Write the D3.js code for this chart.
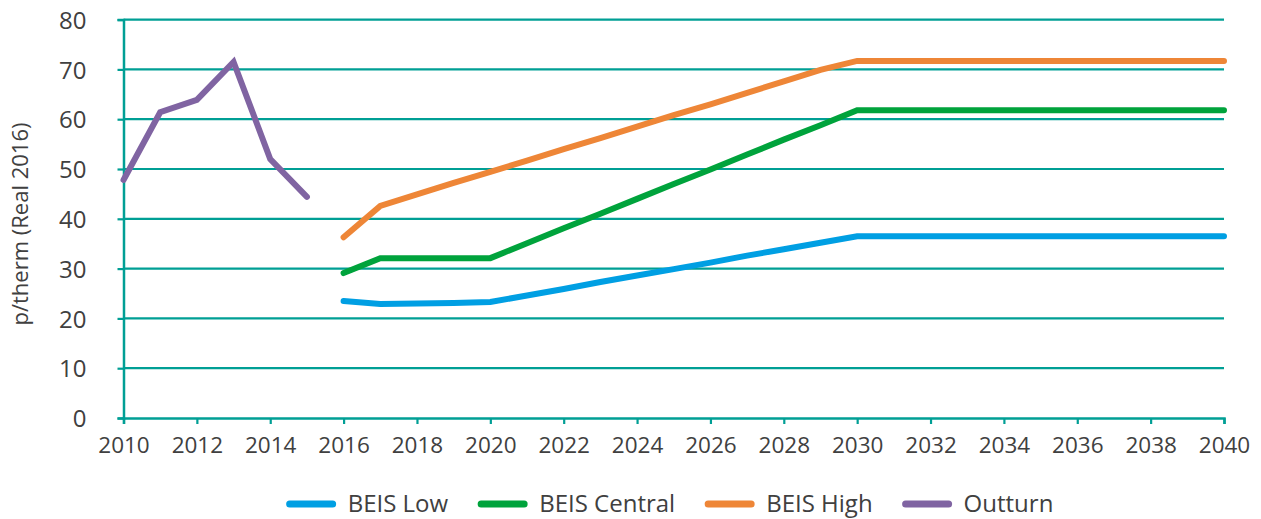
<!DOCTYPE html>
<html><head><meta charset="utf-8">
<script src="https://cdn.jsdelivr.net/npm/d3@7"></script>
<style>body{margin:0;background:#fff;} svg{display:block;} text{font-family:"Open Sans",sans-serif;fill:#404040;}</style>
</head><body>
<svg id="c" width="1261" height="519"></svg>
<script>
const outturnYears = [2010,2011,2012,2013,2014,2015];
const outturnValues = [47.8,61.4,63.9,71.5,52.0,44.4];
const beisYears = [2016,2017,2018,2019,2020,2021,2022,2023,2024,2025,2026,2027,2028,2029,2030,2040];
const beisLow =     [23.5,22.9,23.0,23.1,23.3,24.6,25.9,27.3,28.6,29.9,31.2,32.6,33.9,35.2,36.5,36.5];
const beisCentral = [29.1,32.1,32.1,32.1,32.1,35.1,38.1,41.0,44.0,47.0,49.9,52.9,55.9,58.8,61.8,61.8];
const beisHigh =    [36.3,42.6,44.9,47.2,49.4,51.7,54.0,56.2,58.5,60.8,63.0,65.3,67.6,69.9,71.7,71.7];
const yTicks = [0,10,20,30,40,50,60,70,80];
const xTicks = [2010,2012,2014,2016,2018,2020,2022,2024,2026,2028,2030,2032,2034,2036,2038,2040];
const seriesNames = ["BEIS Low","BEIS Central","BEIS High","Outturn"];
const seriesColors = ["#009fe3","#00a33c","#ee8637","#8064a2"];
const yTitle = "p/therm (Real 2016)";

const svg = d3.select("#c");
const x = d3.scaleLinear().domain([2010,2040]).range([123.5,1224]);
const y = d3.scaleLinear().domain([0,80]).range([418,19.6]);
const grid = "#009f95";

// gridlines
svg.append("g").selectAll("line").data(yTicks.filter(d=>d>0)).join("line")
  .attr("x1",x(2010)).attr("x2",x(2040)).attr("y1",d=>y(d)).attr("y2",d=>y(d))
  .attr("stroke",grid).attr("stroke-width",2.2);

// y axis
const ya = svg.append("g").attr("transform",`translate(${x(2010)},0)`)
  .call(d3.axisLeft(y).tickValues(yTicks).tickSize(6).tickPadding(31));
ya.select(".domain").attr("stroke",grid).attr("stroke-width",2.5);
ya.selectAll(".tick line").attr("stroke",grid).attr("stroke-width",2.2);
ya.selectAll("text").style("font-size","24px").attr("fill","#404040").attr("dy","0.36em");

// x axis
const xa = svg.append("g").attr("transform",`translate(0,${y(0)})`)
  .call(d3.axisBottom(x).tickValues(xTicks).tickFormat(d3.format("d")).tickSize(6).tickPadding(13));
xa.select(".domain").attr("stroke",grid).attr("stroke-width",2.5);
xa.selectAll(".tick line").attr("stroke",grid).attr("stroke-width",2.2);
xa.selectAll("text").style("font-size","22.5px").attr("fill","#404040");

// y title
svg.append("text").attr("transform",`translate(28,224) rotate(-90)`).attr("text-anchor","middle")
  .style("font-size","22px").text(yTitle);

const line = d3.line().x(d=>x(d[0])).y(d=>y(d[1]));
const data = [
  beisYears.map((yr,i)=>[yr,beisLow[i]]),
  beisYears.map((yr,i)=>[yr,beisCentral[i]]),
  beisYears.map((yr,i)=>[yr,beisHigh[i]]),
  outturnYears.map((yr,i)=>[yr,outturnValues[i]])
];
svg.append("g").selectAll("path").data(data).join("path")
  .attr("d",line).attr("fill","none").attr("stroke",(d,i)=>seriesColors[i])
  .attr("stroke-width",6).attr("stroke-linejoin","miter").attr("stroke-linecap","round");

// legend
const lg = svg.append("g");
let cx = 0;
seriesNames.forEach((n,i)=>{
  const g = lg.append("g");
  g.append("line").attr("x1",cx+3).attr("x2",cx+46).attr("y1",0).attr("y2",0)
    .attr("stroke",seriesColors[i]).attr("stroke-width",7).attr("stroke-linecap","round");
  const t = g.append("text").attr("x",cx+61).attr("y",0).attr("dy","0.35em").style("font-size","24px").text(n);
  const w = t.node().getComputedTextLength();
  cx += 61 + w + 30;
});
const total = cx - 30;
lg.attr("transform",`translate(${670 - total/2},504)`);
</script>
</body></html>
